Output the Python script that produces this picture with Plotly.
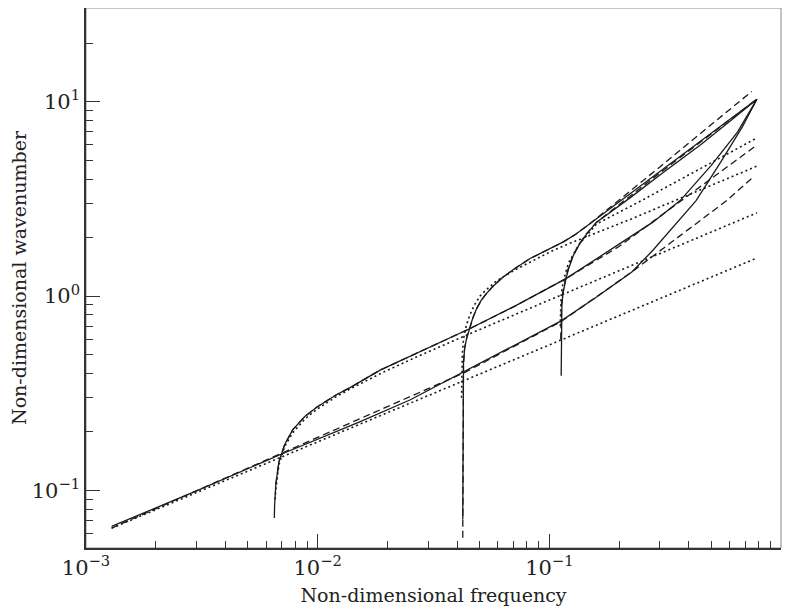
import plotly.graph_objects as go

# ---------------- data ----------------
# Solid curves (exact dispersion branches)
s1_x = [0.00129, 0.003, 0.007, 0.015, 0.025, 0.0423, 0.07, 0.1125, 0.16, 0.227, 0.28, 0.35, 0.43, 0.55, 0.68, 0.787]
s1_y = [0.0653, 0.0996, 0.154, 0.224, 0.292, 0.404, 0.555, 0.746, 0.989, 1.33, 1.72, 2.34, 3.1, 4.9, 7.4, 10.3]

s2_x = [0.0065, 0.00652, 0.0066, 0.0068, 0.0072, 0.0078, 0.0088, 0.0099, 0.012, 0.0138, 0.0186, 0.027, 0.0373,
        0.0455, 0.07, 0.118, 0.2, 0.28, 0.367, 0.5, 0.65, 0.787]
s2_y = [0.0721, 0.085, 0.108, 0.14, 0.172, 0.205, 0.24, 0.268, 0.31, 0.338, 0.416, 0.511, 0.61,
        0.681, 0.88, 1.23, 1.85, 2.4, 3.1, 4.7, 7.0, 10.3]

s3_x = [0.0423, 0.0423, 0.0424, 0.0426, 0.0431, 0.044, 0.0453, 0.0467, 0.0485, 0.0508, 0.0535, 0.057, 0.0625,
        0.07, 0.0826, 0.1, 0.115, 0.13, 0.150, 0.2, 0.3, 0.45, 0.6, 0.787]
s3_y = [0.0708, 0.2, 0.35, 0.45, 0.54, 0.61, 0.681, 0.77, 0.86, 0.95, 1.03, 1.12, 1.24,
        1.37, 1.56, 1.75, 1.90, 2.08, 2.36, 3.05, 4.37, 6.27, 8.1, 10.3]

s4_x = [0.1125, 0.1125, 0.1127, 0.1133, 0.1145, 0.1162, 0.118, 0.1215, 0.127, 0.135, 0.145, 0.160,
        0.223, 0.3, 0.45, 0.6, 0.787]
s4_y = [0.389, 0.6, 0.75, 0.9, 1.03, 1.14, 1.23, 1.40, 1.62, 1.85, 2.09, 2.40,
        3.2, 4.2, 6.0, 7.9, 10.3]

# Dashed curves (first approximation)
da_x = [0.0423, 0.0423, 0.0424, 0.0426, 0.0431, 0.044, 0.0453, 0.0467, 0.0485, 0.0508, 0.0535, 0.057, 0.0625,
        0.07, 0.0826, 0.1, 0.115, 0.13, 0.150, 0.3, 0.748]
da_y = [0.0571, 0.2, 0.35, 0.45, 0.54, 0.61, 0.681, 0.77, 0.86, 0.95, 1.03, 1.12, 1.24,
        1.37, 1.56, 1.75, 1.90, 2.08, 2.36, 4.62, 11.3]

db_x = [0.0066, 0.0068, 0.0072, 0.0078, 0.0088, 0.0099, 0.012, 0.0138, 0.0186, 0.027, 0.0373,
        0.0455, 0.07, 0.118, 0.2, 0.4, 0.789]
db_y = [0.108, 0.14, 0.172, 0.205, 0.24, 0.268, 0.31, 0.338, 0.416, 0.511, 0.61,
        0.681, 0.88, 1.23, 1.8, 3.3, 6.0]

dc_x = [0.00129, 0.0423, 0.1125, 0.227, 0.4, 0.583, 0.766]
dc_y = [0.0640, 0.40, 0.74, 1.33, 2.21, 3.1, 4.14]

dd_x = [0.112, 0.1122, 0.1128, 0.114, 0.1157, 0.1175, 0.121, 0.1265, 0.1345, 0.1445, 0.160, 0.3, 0.787]
dd_y = [0.6, 0.75, 0.9, 1.03, 1.14, 1.23, 1.40, 1.62, 1.85, 2.09, 2.40, 4.3, 10.3]

# Dotted curves (second approximation)
p4_x = [0.00129, 0.787]
p4_y = [0.064, 1.57]

p3_x = [0.00655, 0.0066, 0.0068, 0.0072, 0.0078, 0.0088, 0.0099, 0.012, 0.0138, 0.0192, 0.027, 0.0373, 0.0455,
        0.1, 0.2235, 0.787]
p3_y = [0.09, 0.102, 0.135, 0.168, 0.198, 0.233, 0.261, 0.303, 0.333, 0.406, 0.489, 0.579, 0.641,
        0.954, 1.43, 2.68]

p2_x = [0.0418, 0.0419, 0.0421, 0.0426, 0.0435, 0.0447, 0.0462, 0.048, 0.0502, 0.053, 0.0593, 0.07,
        0.0826, 0.1, 0.12, 0.2235, 0.787]
p2_y = [0.3, 0.4, 0.5, 0.6, 0.68, 0.76, 0.84, 0.92, 1.0, 1.07, 1.2, 1.35,
        1.5, 1.68, 1.85, 2.48, 4.66]

p1_x = [0.1115, 0.1117, 0.1123, 0.1135, 0.1152, 0.1172, 0.121, 0.127, 0.135, 0.145, 0.16, 0.25, 0.4, 0.787]
p1_y = [0.7, 0.85, 0.98, 1.1, 1.2, 1.3, 1.48, 1.65, 1.86, 2.05, 2.35, 3.1, 4.2, 6.51]

x_tick_vals = [0.001, 0.01, 0.1, 1]
x_tick_text = ["10<sup>\u22123</sup>", "10<sup>\u22122</sup>", "10<sup>\u22121</sup>", "10<sup>0</sup>"]
y_tick_vals = [0.1, 1, 10]
y_tick_text = ["10<sup>\u22121</sup>", "10<sup>0</sup>", "10<sup>1</sup>"]
x_title = "Non-dimensional frequency"
y_title = "Non-dimensional wavenumber"

# ---------------- figure ----------------
LINE = "#1a1a1a"
fig = go.Figure()

def add(x, y, dash, width=1.3):
    fig.add_trace(go.Scatter(x=x, y=y, mode="lines",
                             line=dict(color=LINE, width=width, dash=dash),
                             showlegend=False, hoverinfo="skip"))

for x, y in [(p4_x, p4_y), (p3_x, p3_y), (p2_x, p2_y), (p1_x, p1_y)]:
    add(x, y, "2px,3px", 1.6)
for x, y in [(da_x, da_y), (db_x, db_y), (dc_x, dc_y), (dd_x, dd_y)]:
    add(x, y, "7px,4px", 1.3)
for x, y in [(s1_x, s1_y), (s2_x, s2_y), (s3_x, s3_y), (s4_x, s4_y)]:
    add(x, y, "solid", 1.3)

minor_x = [m * 10.0 ** e for e in (-3, -2, -1) for m in range(2, 10)]
minor_y = [m * 10.0 ** e for e in (-2, -1, 0, 1) for m in range(2, 10)]

FONT = "DejaVu Serif"
# the page body has an 8 px default margin, so the figure is 8 px smaller
fig.update_layout(
    width=789, height=605,
    margin=dict(l=78, r=16, t=0, b=65),
    paper_bgcolor="white", plot_bgcolor="white",
    font=dict(family=FONT, color="#222", size=19),
    xaxis=dict(type="log", range=[-3, 0], tickmode="array", automargin=False,
               tickvals=x_tick_vals, ticktext=x_tick_text,
               ticks="inside", ticklen=14, tickcolor="#333", tickwidth=1,
               showline=True, linecolor="#333", linewidth=1.5,
               showgrid=False, zeroline=False,
               tickfont=dict(family=FONT, size=21, color="#222"),
               minor=dict(tickmode="array", tickvals=minor_x, ticks="inside",
                          ticklen=7, tickcolor="#333", showgrid=False),
               title=dict(text=x_title, font=dict(family=FONT, size=19, color="#222"),
                          standoff=10)),
    yaxis=dict(type="log", range=[-1.296, 1.482], tickmode="array", automargin=False,
               tickvals=y_tick_vals, ticktext=y_tick_text,
               ticks="inside", ticklen=14, tickcolor="#333", tickwidth=1,
               showline=True, linecolor="#333", linewidth=1.5,
               showgrid=False, zeroline=False,
               tickfont=dict(family=FONT, size=21, color="#222"),
               minor=dict(tickmode="array", tickvals=minor_y, ticks="inside",
                          ticklen=7, tickcolor="#333", showgrid=False),
               title=dict(text=y_title, font=dict(family=FONT, size=19, color="#222"),
                          standoff=6)),
    shapes=[dict(type="rect", xref="paper", yref="paper", x0=0, y0=0, x1=1, y1=1,
                 line=dict(color="#888", width=1), layer="below")],
)

fig.write_html("out.html")
